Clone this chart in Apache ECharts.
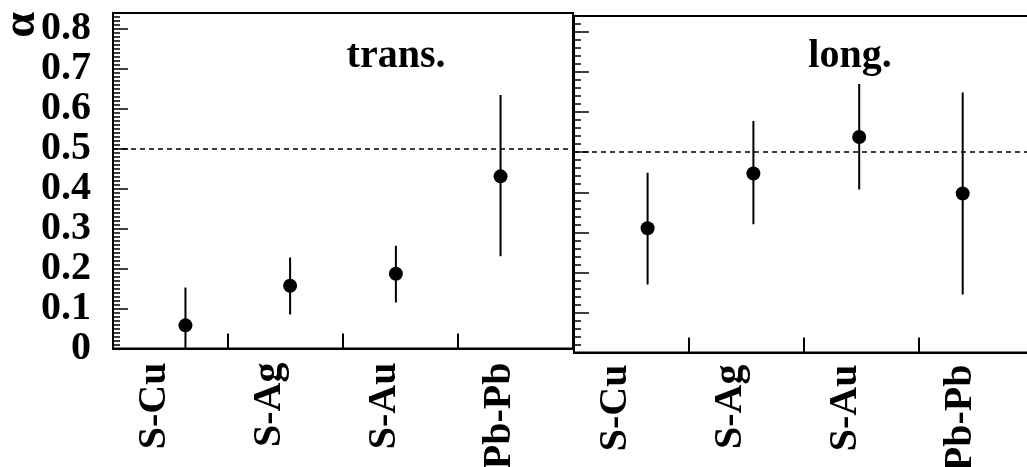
<!DOCTYPE html>
<html><head><meta charset="utf-8">
<script src="https://cdn.jsdelivr.net/npm/echarts@6/dist/echarts.min.js"></script>
<style>html,body{margin:0;padding:0;background:#fff}#c{width:1027px;height:467px}</style>
</head><body><div id="c"></div>
<script>
// ---- data ----
const categories = ['S-Cu', 'S-Ag', 'S-Au', 'Pb-Pb'];
const panelTitles = ['trans.', 'long.'];
const labelPos = [0.36, 1.36, 2.36, 3.36];          // where the category names sit (bin units)
const transX = [0.63, 1.54, 2.46, 3.37];
const transAlpha = [0.058, 0.157, 0.187, 0.431];
const transLow = [0.0, 0.085, 0.115, 0.231];
const transHigh = [0.153, 0.228, 0.257, 0.635];
const longX = [0.64, 1.56, 2.48, 3.38];
const longAlpha = [0.31, 0.447, 0.538, 0.397];
const longLow = [0.17, 0.32, 0.407, 0.145];
const longHigh = [0.449, 0.578, 0.67, 0.649];
const refLevel = 0.5;
const yMin = 0, yMax = 0.84, yStep = 0.1;
const xMin = 0, xMax = 4, xStep = 1;

const FONT = "'Liberation Serif', 'DejaVu Serif', serif";
const chart = echarts.init(document.getElementById('c'));

function xAxis(g) {
  return {
    gridIndex: g, type: 'value', min: xMin, max: xMax, interval: xStep,
    axisLine: { show: true, onZero: false, lineStyle: { color: '#000', width: 2 } },
    axisTick: { show: true, inside: true, length: 15, lineStyle: { color: '#000', width: 2 } },
    splitLine: { show: false },
    axisLabel: {
      show: true, customValues: labelPos, rotate: 90, margin: g === 0 ? 14 : 12,
      formatter: v => categories[Math.floor(v)],
      fontFamily: FONT, fontWeight: 'bold', fontSize: 40, color: '#000'
    }
  };
}
function yAxis(g) {
  return {
    gridIndex: g, type: 'value', min: yMin, max: yMax, interval: yStep,
    axisLine: { show: true, lineStyle: { color: '#000', width: 2 } },
    axisTick: { show: true, inside: true, length: 15, lineStyle: { color: '#000', width: 1.5 } },
    minorTick: { show: true, splitNumber: g === 0 ? 10 : 5, length: 7, lineStyle: { color: '#000', width: 1.5 } },
    splitLine: { show: false },
    axisLabel: {
      show: g === 0, showMaxLabel: false, showMinLabel: true, hideOverlap: false, margin: 22,
      formatter: v => String(Math.round(v * 10) / 10),
      fontFamily: FONT, fontWeight: 'bold', fontSize: 40, color: '#000'
    }
  };
}
function errSeries(xs, lo, hi, g) {
  return {
    type: 'custom', xAxisIndex: g, yAxisIndex: g, clip: true, z: 3,
    data: xs.map((x, i) => [x, lo[i], hi[i]]),
    renderItem: (params, api) => {
      const p1 = api.coord([api.value(0), api.value(1)]);
      const p2 = api.coord([api.value(0), api.value(2)]);
      return { type: 'line', shape: { x1: p1[0], y1: p1[1], x2: p2[0], y2: p2[1] },
               style: { stroke: '#000', lineWidth: 2 } };
    }
  };
}
function ptSeries(xs, ys, g) {
  return {
    type: 'scatter', xAxisIndex: g, yAxisIndex: g, z: 4,
    symbol: 'circle', symbolSize: 14, itemStyle: { color: '#000', opacity: 1 },
    data: xs.map((x, i) => [x, ys[i]]),
    markLine: {
      silent: true, symbol: 'none', label: { show: false },
      lineStyle: { color: '#000', width: 1.5, type: [5, 4] },
      data: [{ yAxis: refLevel }]
    }
  };
}

chart.setOption({
  animation: false,
  backgroundColor: '#fff',
  grid: [
    { left: 113, width: 460, top: 13, bottom: 467 - 348.5, outerBoundsMode: 'none', containLabel: false, show: true, borderColor: '#000', borderWidth: 2, backgroundColor: 'transparent' },
    { left: 574, width: 460, top: 16, bottom: 467 - 352.5, outerBoundsMode: 'none', containLabel: false, show: true, borderColor: '#000', borderWidth: 2, backgroundColor: 'transparent' }
  ],
  xAxis: [xAxis(0), xAxis(1)],
  yAxis: [yAxis(0), yAxis(1)],
  series: [
    errSeries(transX, transLow, transHigh, 0),
    ptSeries(transX, transAlpha, 0),
    errSeries(longX, longLow, longHigh, 1),
    ptSeries(longX, longAlpha, 1)
  ],
  graphic: [
    { type: 'text', x: 396, y: 57, style: { text: panelTitles[0], font: "bold 40px " + FONT, fill: '#000', align: 'center', verticalAlign: 'middle' } },
    { type: 'text', x: 850, y: 57, style: { text: panelTitles[1], font: "bold 40px " + FONT, fill: '#000', align: 'center', verticalAlign: 'middle' } },
    { type: 'text', x: 22, y: 25, rotation: Math.PI / 2, style: { text: '\u03b1', font: "bold 46px " + FONT, fill: '#000', align: 'center', verticalAlign: 'middle' } }
  ]
});
</script>
</body></html>
